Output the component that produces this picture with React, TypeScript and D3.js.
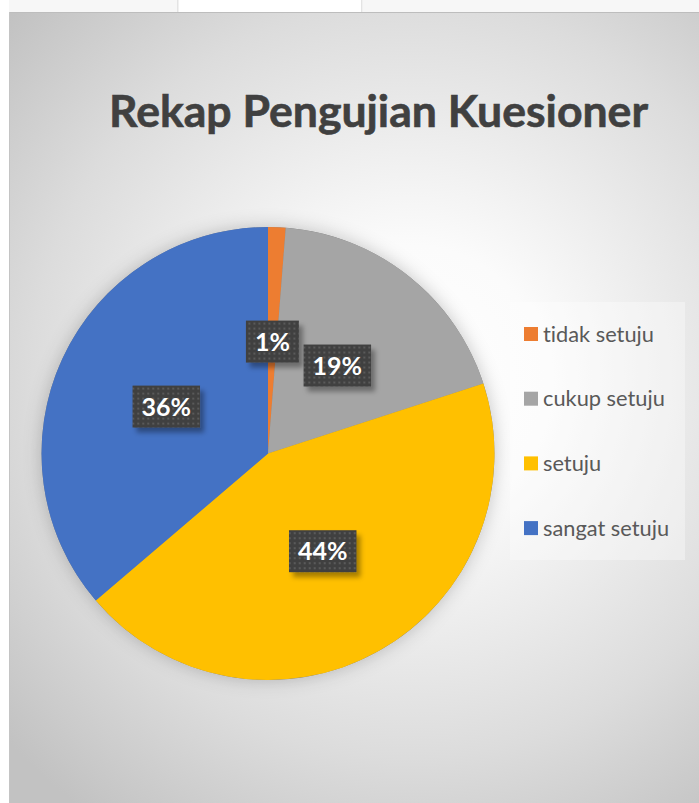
import React, { useEffect, useRef } from "react";
import * as d3 from "d3";

const categories = ["tidak setuju", "cukup setuju", "setuju", "sangat setuju"];
const values = [1, 15, 35, 29];
const colors = ["#ED7D31", "#A5A5A5", "#FFC000", "#4472C4"];
const title = "Rekap Pengujian Kuesioner";

const W = 699;
const H = 803;

export default function App() {
  const ref = useRef<SVGSVGElement | null>(null);

  useEffect(() => {
    const svg = d3.select(ref.current);
    svg.selectAll("*").remove();
    const font = "Lato, 'Open Sans', sans-serif";

    const defs = svg.append("defs");
    const rg = defs
      .append("radialGradient")
      .attr("id", "bg")
      .attr("gradientUnits", "userSpaceOnUse")
      .attr("cx", 410)
      .attr("cy", 380)
      .attr("r", 540);
    [
      [0, "#ffffff"],
      [0.25, "#fbfbfb"],
      [0.7, "#dcdcdc"],
      [1, "#c2c2c2"],
    ].forEach(([o, c]) => rg.append("stop").attr("offset", o as number).attr("stop-color", c as string));

    const pat = defs
      .append("pattern")
      .attr("id", "dots")
      .attr("patternUnits", "userSpaceOnUse")
      .attr("width", 5)
      .attr("height", 5);
    pat.append("rect").attr("width", 5).attr("height", 5).attr("fill", "#404040");
    pat.append("rect").attr("x", 1).attr("y", 1).attr("width", 2).attr("height", 2).attr("fill", "#5a5a5a");

    const sh = defs.append("filter").attr("id", "boxShadow").attr("x", "-30%").attr("y", "-30%").attr("width", "170%").attr("height", "170%");
    sh.append("feDropShadow").attr("dx", 4).attr("dy", 5).attr("stdDeviation", 2.5).attr("flood-color", "#000").attr("flood-opacity", 0.35);

    const ps = defs.append("filter").attr("id", "pieShadow").attr("x", "-20%").attr("y", "-20%").attr("width", "140%").attr("height", "140%");
    ps.append("feDropShadow").attr("dx", 0).attr("dy", 0).attr("stdDeviation", 9).attr("flood-color", "#000").attr("flood-opacity", 0.22);

    // top strip
    svg.append("rect").attr("x", 0).attr("y", 0).attr("width", W).attr("height", H).attr("fill", "#ffffff");
    svg.append("rect").attr("x", 9).attr("y", 0).attr("width", 169).attr("height", 12).attr("fill", "#f7f7f7");
    svg.append("rect").attr("x", 363).attr("y", 0).attr("width", 336).attr("height", 12).attr("fill", "#f7f7f7");
    svg.append("rect").attr("x", 177).attr("y", 0).attr("width", 1.5).attr("height", 12).attr("fill", "#e4e4e4");
    svg.append("rect").attr("x", 361).attr("y", 0).attr("width", 1.5).attr("height", 12).attr("fill", "#e4e4e4");

    // chart area
    svg.append("rect").attr("x", 9).attr("y", 12).attr("width", W - 9).attr("height", H - 12).attr("fill", "url(#bg)");
    svg.append("line").attr("x1", 9).attr("x2", W).attr("y1", 12.5).attr("y2", 12.5).attr("stroke", "#bdbdbd").attr("stroke-width", 1);
    svg.append("line").attr("x1", 9.5).attr("x2", 9.5).attr("y1", 12).attr("y2", H).attr("stroke", "#c4c4c4").attr("stroke-width", 1);

    // title
    svg
      .append("text")
      .attr("x", 109)
      .attr("y", 127)
      .attr("font-family", font)
      .attr("font-weight", 700)
      .attr("font-size", 43)
      .attr("fill", "#404040")
      .attr("stroke", "#404040")
      .attr("stroke-width", 0.6)
      .style("font-variant-ligatures", "none")
      .attr("textLength", 539)
      .attr("lengthAdjust", "spacingAndGlyphs")
      .text(title);

    // pie
    const cx = 268;
    const cy = 453.5;
    const R = 226.5;
    const pie = d3.pie<number>().sort(null).value((d) => d);
    const arcs = pie(values);
    const arc = d3.arc<d3.PieArcDatum<number>>().innerRadius(0).outerRadius(R);
    const g = svg.append("g").attr("transform", `translate(${cx},${cy})`);
    g.append("circle").attr("r", R).attr("fill", "#888").attr("filter", "url(#pieShadow)");
    g.selectAll("path.slice")
      .data(arcs)
      .join("path")
      .attr("class", "slice")
      .attr("d", arc as any)
      .attr("fill", (_, i) => colors[i]);

    // labels
    const total = d3.sum(values);
    const lblArc = d3.arc<d3.PieArcDatum<number>>().innerRadius(0).outerRadius(224);
    arcs.forEach((a) => {
      const [lx, ly] = lblArc.centroid(a);
      const lg = g.append("g").attr("transform", `translate(${lx},${ly})`);
      const txt = `${Math.round((a.data / total) * 100)}%`;
      const rect = lg.append("rect").attr("fill", "url(#dots)").attr("filter", "url(#boxShadow)");
      const t = lg
        .append("text")
        .attr("text-anchor", "middle")
        .attr("y", 9)
        .attr("font-family", font)
        .attr("font-weight", 700)
        .attr("font-size", 25)
        .attr("fill", "#ffffff")
        .text(txt);
      const tw = (t.node() as SVGTextElement).getComputedTextLength();
      const bw = tw + 18;
      const bh = 42;
      rect.attr("x", -bw / 2).attr("y", -bh / 2).attr("width", bw).attr("height", bh);
    });

    // legend
    svg.append("rect").attr("x", 510).attr("y", 302).attr("width", 175).attr("height", 258).attr("fill", "#ffffff").attr("opacity", 0.35);
    const ly0 = 327;
    const step = 64.7;
    categories.forEach((c, i) => {
      const y = ly0 + i * step;
      svg.append("rect").attr("x", 524).attr("y", y).attr("width", 14).attr("height", 14).attr("fill", colors[i]);
      svg
        .append("text")
        .attr("x", 543)
        .attr("y", y + 14.5)
        .attr("font-family", font)
        .attr("font-size", 21.8)
        .attr("fill", "#595959")
        .style("font-variant-ligatures", "none")
        .text(c);
    });
  }, []);

  return (
    <svg
      ref={ref}
      width={W}
      height={H}
      style={{ position: "absolute", left: 0, top: 0, display: "block" }}
    />
  );
}
